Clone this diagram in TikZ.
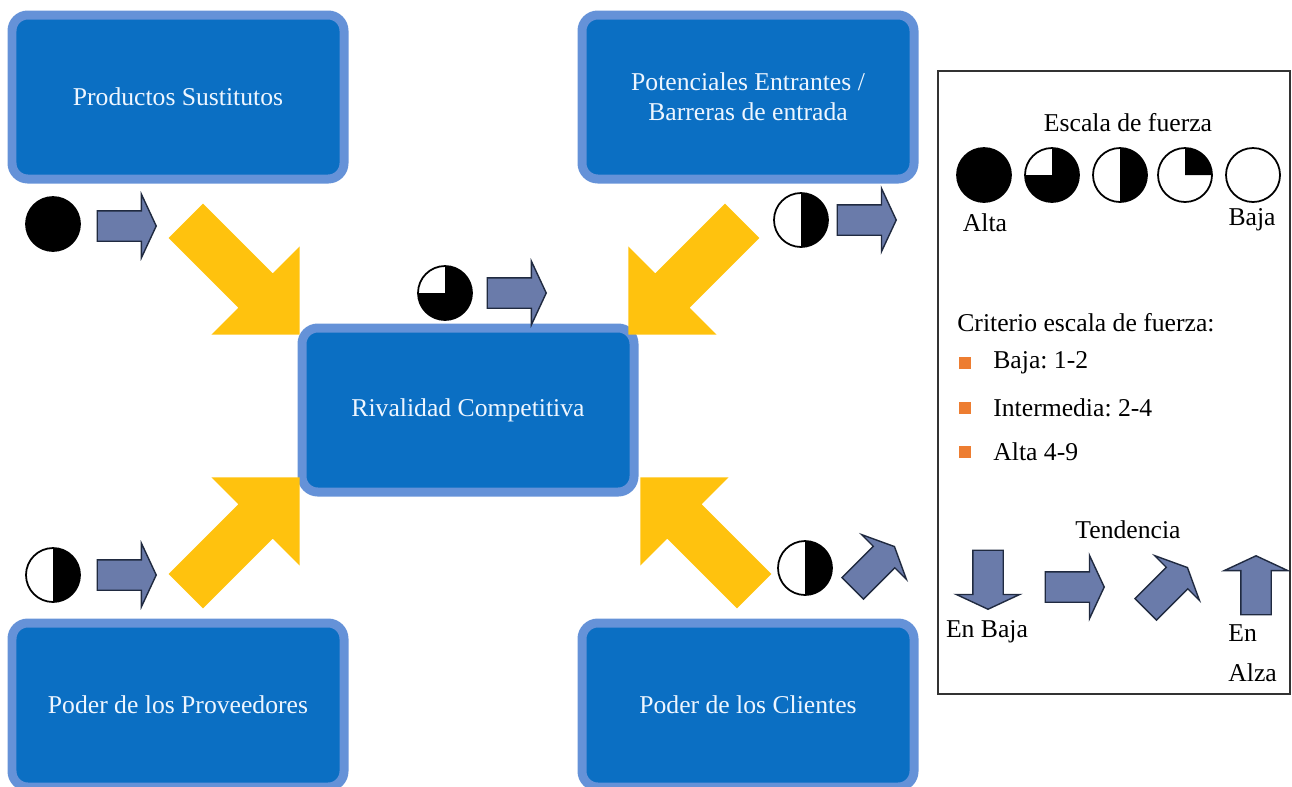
\documentclass[tikz,border=0pt]{standalone}
\usepackage{fontspec}
\setmainfont{Liberation Serif}
\usetikzlibrary{shapes.arrows}
\frenchspacing
\definecolor{boxF}{HTML}{0B6FC3}
\definecolor{boxD}{HTML}{6592D8}
\definecolor{boxT}{HTML}{EEF6FF}
\definecolor{pushF}{HTML}{FFC20E}
\definecolor{trendF}{HTML}{6A7BAA}
\definecolor{trendD}{HTML}{202A40}
\definecolor{bulletF}{HTML}{ED7D31}
\definecolor{frameD}{HTML}{333333}
\tikzset{
  fuerza/.style={rounded corners=9pt, draw=boxD, fill=boxF, line width=0.18cm, text=boxT, align=center,
                 minimum width=6.64cm, minimum height=3.28cm},
  push/.style={single arrow, fill=pushF, inner xsep=0pt, inner ysep=0.48cm, single arrow head extend=0.76cm,
               minimum height=3.22cm, anchor=tip},
  trend/.style={single arrow, fill=trendF, draw=trendD, line width=0.8pt, inner xsep=0pt, inner ysep=0.29cm,
                single arrow head extend=0.33cm, single arrow tip angle=130, minimum height=1.18cm, anchor=tip},
  txt/.style={inner sep=0pt},
  bullet/.style={fill=bulletF, minimum size=0.24cm, inner sep=0pt},
}
% #1 name, #2 centre, #3 number of black quarters
\newcommand\fz[3]{%
  \coordinate (#1) at (#2);
  \fill[white] (#1) circle (0.54);
  \ifnum#3>0 \fill[black] (#1) -- ++({90-90*#3}:0.54) arc[start angle={90-90*#3}, end angle=90, radius=0.54] -- cycle;\fi
  \draw[line width=1pt] (#1) circle (0.54);
}

\begin{document}
\begin{tikzpicture}[font=\fontsize{14.6pt}{17pt}\selectfont]
\useasboundingbox (0,0) rectangle (25.84,-15.72);
% the five forces
\node[fuerza] (prod) at (3.56,-1.94) {Productos Sustitutos};
\node[fuerza] (pot) at (14.96,-1.94) {Potenciales Entrantes /\\[0pt]Barreras de entrada};
\node[fuerza] (riv) at (9.36,-8.2) {Rivalidad Competitiva};
\node[fuerza] (prov) at (3.56,-14.1) {Poder de los Proveedores};
\node[fuerza] (cli) at (14.96,-14.1) {Poder de los Clientes};
% pressure on the rivalry
\node[push, rotate=-45] (e1) at (6.0,-6.7) {};
\node[push, rotate=-135] (e2) at (12.56,-6.7) {};
\node[push, rotate=45] (e3) at (6.0,-9.54) {};
\node[push, rotate=135] (e4) at (12.8,-9.54) {};
% strength and trend of each force
\fz{c1}{1.06,-4.48}{4}
\node[trend] (t1) at (3.14,-4.52) {};
\fz{c2}{8.9,-5.86}{3}
\node[trend] (t2) at (10.94,-5.86) {};
\fz{c3}{16.02,-4.40}{2}
\node[trend] (t3) at (17.94,-4.40) {};
\fz{c4}{1.06,-11.5}{2}
\node[trend] (t4) at (3.14,-11.5) {};
\fz{c5}{16.1,-11.36}{2}
\node[trend, rotate=45] (t5) at (17.9,-10.92) {};
% legend
\draw[frameD, line width=1pt] (18.76,-1.42) rectangle (25.8,-13.88);
\node[txt] (escala) at (22.56,-2.46) {Escala de fuerza};
\fz{l4}{19.68,-3.5}{4}
\fz{l3}{21.04,-3.5}{3}
\fz{l2}{22.4,-3.5}{2}
\fz{l1}{23.7,-3.5}{1}
\fz{l0}{25.06,-3.5}{0}
\node[txt] (alta) at (19.7,-4.46) {Alta};
\node[txt] (baja) at (25.04,-4.4) {Baja};
\node[txt, anchor=west] (crit) at (19.14,-6.46) {Criterio escala de fuerza:};
\node[bullet] (b1) at (19.3,-7.26) {};
\node[txt, anchor=west] (k1) at (19.86,-7.26) {Baja: 1-2};
\node[bullet] (b2) at (19.3,-8.16) {};
\node[txt, anchor=west] (k2) at (19.86,-8.16) {Intermedia: 2-4};
\node[bullet] (b3) at (19.3,-9.04) {};
\node[txt, anchor=west] (k3) at (19.86,-9.04) {Alta 4-9};
\node[txt] (tend) at (22.56,-10.6) {Tendencia};
\node[trend, rotate=-90] (d1) at (19.76,-12.2) {};
\node[trend] (d2) at (22.1,-11.74) {};
\node[trend, rotate=45] (d3) at (23.76,-11.34) {};
\node[trend, rotate=90] (d4) at (25.12,-11.1) {};
\node[txt] (enbaja) at (19.74,-12.64) {En Baja};
\node[txt, align=left, anchor=north west] (enalza) at (24.56,-12.48) {En\\[6pt]Alza};
\end{tikzpicture}
\end{document}
